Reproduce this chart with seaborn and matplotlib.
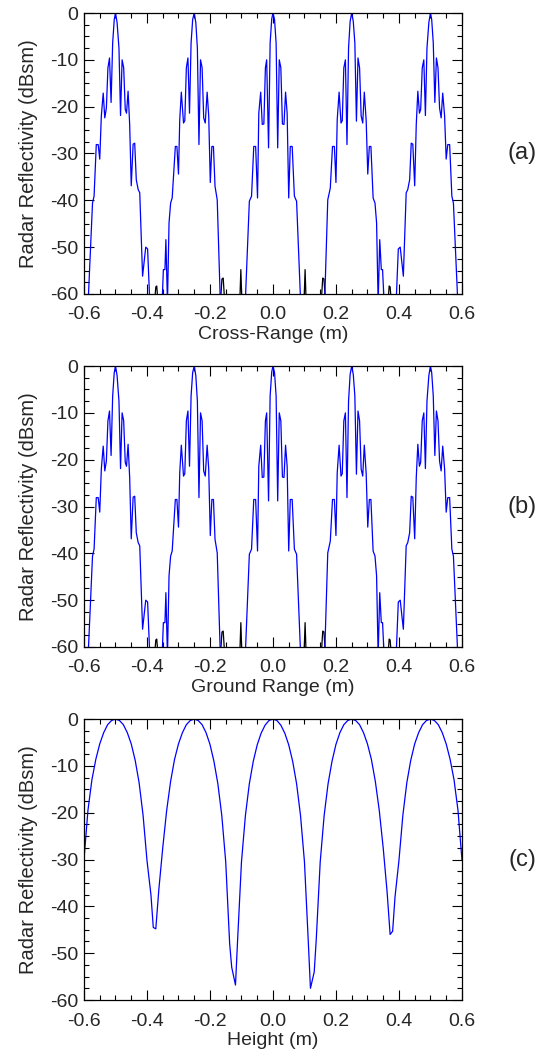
import matplotlib
matplotlib.use("Agg")
import matplotlib.pyplot as plt
from matplotlib.ticker import MultipleLocator, FormatStrFormatter
import seaborn as sns
import pandas as pd

# cross-range profile (blue), values below -60 fall outside the axis
cross_x = [-0.600, -0.586, -0.573, -0.568, -0.561, -0.555, -0.550, -0.545, -0.539, -0.534,
           -0.529, -0.524, -0.519, -0.514, -0.509, -0.504, -0.500, -0.495, -0.489, -0.484,
           -0.479, -0.474, -0.469, -0.465, -0.460, -0.455, -0.450, -0.444, -0.439, -0.434,
           -0.428, -0.423, -0.414, -0.404, -0.398, -0.391,
           -0.352, -0.348, -0.343, -0.340, -0.335, -0.330, -0.325, -0.320, -0.310, -0.305,
           -0.300, -0.296, -0.291, -0.284, -0.280, -0.275, -0.270, -0.265, -0.260, -0.255,
           -0.250, -0.245, -0.240, -0.235, -0.230, -0.225, -0.220, -0.215, -0.209, -0.204,
           -0.199, -0.194, -0.189, -0.184, -0.177, -0.167,
           -0.088, -0.075, -0.068, -0.061, -0.055, -0.049, -0.045, -0.039, -0.034, -0.029,
           -0.024, -0.020, -0.014, -0.009, -0.004, 0.000, 0.005, 0.010, 0.015, 0.020,
           0.025, 0.030, 0.035, 0.040, 0.045, 0.050, 0.055, 0.061, 0.068, 0.075, 0.088,
           0.164, 0.174, 0.182, 0.189, 0.195, 0.200, 0.204, 0.210, 0.216, 0.220,
           0.225, 0.230, 0.235, 0.240, 0.245, 0.250, 0.255, 0.260, 0.265, 0.270,
           0.275, 0.280, 0.285, 0.290, 0.296, 0.301, 0.306, 0.311, 0.318, 0.324,
           0.329, 0.334, 0.339, 0.344, 0.348, 0.353,
           0.391, 0.398, 0.404, 0.414, 0.423, 0.428, 0.434, 0.439, 0.444, 0.450,
           0.455, 0.460, 0.465, 0.469, 0.474, 0.479, 0.484, 0.489, 0.495, 0.500,
           0.504, 0.509, 0.514, 0.519, 0.524, 0.529, 0.534, 0.539, 0.545, 0.550,
           0.555, 0.561, 0.568, 0.573, 0.586, 0.600]
cross_db = [-75.0, -60.5, -40.6, -39.1, -28.1, -28.1, -31.2, -22.0, -17.1, -22.4,
            -20.3, -11.7, -9.6, -19.1, -6.4, -1.4, 0.0, -2.0, -7.5, -21.9,
            -10.0, -11.7, -20.6, -21.4, -16.7, -23.8, -36.9, -28.0, -27.8, -35.6,
            -37.7, -38.4, -56.2, -50.0, -50.4, -62.0,
            -62.0, -54.8, -54.8, -48.4, -62.0, -44.8, -40.6, -39.5, -28.5, -28.5,
            -34.4, -22.8, -16.9, -23.5, -23.0, -11.7, -9.6, -21.4, -6.4, -1.4,
            0.0, -2.0, -7.5, -28.1, -10.0, -11.7, -22.4, -23.5, -16.9, -22.0,
            -36.2, -28.5, -28.5, -37.0, -39.9, -62.0,
            -62.0, -40.2, -39.1, -28.5, -28.5, -39.5, -21.4, -16.9, -23.8, -23.7,
            -11.7, -10.0, -28.8, -6.4, -1.3, 0.0, -1.4, -6.4, -28.8, -10.0,
            -11.7, -23.7, -23.8, -16.9, -21.4, -39.5, -28.5, -28.5, -39.1, -40.2, -62.0,
            -62.0, -39.9, -37.4, -28.5, -28.5, -36.2, -22.8, -16.9, -23.5, -23.0,
            -11.7, -10.0, -28.1, -7.5, -1.8, 0.0, -1.8, -6.4, -23.1, -9.6,
            -11.7, -22.0, -23.5, -16.9, -23.0, -34.4, -28.5, -28.5, -39.5, -40.6,
            -44.8, -62.0, -48.4, -54.8, -54.8, -62.0,
            -62.0, -50.4, -50.0, -56.2, -38.4, -37.7, -35.6, -27.8, -28.0, -36.9,
            -23.8, -16.7, -21.4, -20.6, -11.7, -10.0, -21.9, -7.5, -2.0, 0.0,
            -1.4, -6.4, -19.1, -9.6, -11.7, -20.3, -22.4, -17.1, -22.0, -31.2,
            -28.1, -28.1, -39.1, -40.6, -60.5, -75.0]

# small black residues near the floor
floor_x = [-0.375, -0.372, -0.369, -0.366,
           -0.166, -0.162, -0.158, -0.154,
           -0.105, -0.102, -0.099,
           0.099, 0.102, 0.105,
           0.154, 0.158, 0.162, 0.166,
           0.366, 0.369, 0.372, 0.375]
floor_db = [-61.0, -58.5, -58.3, -61.0,
            -61.0, -56.8, -56.6, -61.0,
            -61.0, -54.8, -61.0,
            -61.0, -54.8, -61.0,
            -61.0, -56.6, -56.8, -61.0,
            -61.0, -58.3, -58.5, -61.0]
floor_seg = [0, 0, 0, 0, 1, 1, 1, 1, 2, 2, 2, 3, 3, 3, 4, 4, 4, 4, 5, 5, 5, 5]

# ground range looks the same as cross range
ground_x = list(cross_x)
ground_db = list(cross_db)

# height profile
height_x = [-0.6000, -0.5875, -0.5750, -0.5625, -0.5500, -0.5375, -0.5250, -0.5125, -0.5000,
            -0.4875, -0.4750, -0.4625, -0.4500, -0.4375, -0.4250, -0.4125, -0.4000, -0.3875,
            -0.3800, -0.3720, -0.3625, -0.3500, -0.3375, -0.3250, -0.3125, -0.3000, -0.2875,
            -0.2750, -0.2625, -0.2500, -0.2375, -0.2250, -0.2125, -0.2000, -0.1875, -0.1750,
            -0.1625, -0.1500, -0.1375, -0.1310, -0.1190, -0.1125, -0.1000, -0.0875, -0.0750,
            -0.0625, -0.0500, -0.0375, -0.0250, -0.0125, 0.0000, 0.0125, 0.0250, 0.0375,
            0.0500, 0.0625, 0.0750, 0.0875, 0.1000, 0.1125, 0.1190, 0.1310, 0.1375,
            0.1500, 0.1625, 0.1750, 0.1875, 0.2000, 0.2125, 0.2250, 0.2375, 0.2500,
            0.2625, 0.2750, 0.2875, 0.3000, 0.3125, 0.3250, 0.3375, 0.3500, 0.3625,
            0.3720, 0.3800, 0.3875, 0.4000, 0.4125, 0.4250, 0.4375, 0.4500, 0.4625,
            0.4750, 0.4875, 0.5000, 0.5125, 0.5250, 0.5375, 0.5500, 0.5625, 0.5750,
            0.5875, 0.6000]
height_db = [-30.0, -19.5, -13.0, -8.6, -5.3, -2.9, -1.2, -0.3, 0.0,
             -0.3, -1.2, -2.9, -5.3, -8.8, -13.6, -20.5, -30.2, -37.5,
             -44.5, -44.8, -36.5, -27.5, -19.5, -13.3, -8.6, -5.3, -2.9,
             -1.2, -0.3, 0.0, -0.3, -1.2, -2.9, -5.4, -9.0, -13.8,
             -20.6, -30.5, -48.0, -53.0, -56.8, -47.5, -30.5, -20.6, -13.8,
             -9.0, -5.5, -3.0, -1.3, -0.3, 0.0, -0.3, -1.3, -3.0,
             -5.5, -9.0, -13.8, -20.6, -30.5, -48.0, -57.5, -54.0, -47.0,
             -30.5, -20.6, -13.8, -9.0, -5.4, -2.9, -1.2, -0.3, 0.0,
             -0.3, -1.2, -2.9, -5.3, -8.6, -13.3, -19.5, -27.5, -37.0,
             -46.0, -45.3, -38.0, -30.2, -20.5, -13.6, -8.8, -5.3, -2.9,
             -1.2, -0.3, 0.0, -0.3, -1.2, -2.9, -5.3, -8.6, -13.0,
             -19.5, -30.0]

sns.set_style("ticks")
plt.rcParams['font.family'] = ['Liberation Sans', 'DejaVu Sans']
plt.rcParams['axes.unicode_minus'] = False

fig = plt.figure(figsize=(5.43, 10.57), dpi=100)

panels = [
    (0.7219, cross_x, cross_db, True, "Cross-Range (m)", "(a)"),
    (0.3879, ground_x, ground_db, True, "Ground Range (m)", "(b)"),
    (0.0539, height_x, height_db, False, "Height (m)", "(c)"),
]

floor_df = pd.DataFrame({'x': floor_x, 'db': floor_db, 'seg': floor_seg})

for bottom, xs, ys, with_floor, xlabel, tag in panels:
    ax = fig.add_axes([0.1547, bottom, 0.696, 0.2658])
    if with_floor:
        sns.lineplot(data=floor_df, x='x', y='db', units='seg', estimator=None,
                     color='black', lw=0.9, ax=ax)
    df = pd.DataFrame({'x': xs, 'db': ys})
    sns.lineplot(data=df, x='x', y='db', sort=False, estimator=None,
                 color='#0000ff', lw=0.9, ax=ax)
    ax.set_xlim(-0.6, 0.6)
    ax.set_ylim(-60, 0)
    ax.xaxis.set_major_locator(MultipleLocator(0.2))
    ax.xaxis.set_minor_locator(MultipleLocator(0.05))
    ax.yaxis.set_major_locator(MultipleLocator(10))
    ax.yaxis.set_minor_locator(MultipleLocator(2.5))
    ax.xaxis.set_major_formatter(FormatStrFormatter('%.1f'))
    ax.yaxis.set_major_formatter(FormatStrFormatter('%d'))
    ax.tick_params(which='both', direction='in', top=True, right=True, color='black',
                   width=0.8, labelsize=14)
    ax.tick_params(axis='x', pad=9)
    ax.tick_params(axis='y', pad=4)
    ax.tick_params(which='major', length=7)
    ax.tick_params(which='minor', length=3.5)
    for s in ax.spines.values():
        s.set_color('black')
        s.set_linewidth(0.9)
    ax.set_xlabel(xlabel, fontsize=14, labelpad=2)
    ax.set_ylabel("Radar Reflectivity (dBsm)", fontsize=14.5, labelpad=9)
    ax.text(1.16, 0.5, tag, transform=ax.transAxes, fontsize=17,
            ha='center', va='center')

fig.savefig("out.png", dpi=100)
